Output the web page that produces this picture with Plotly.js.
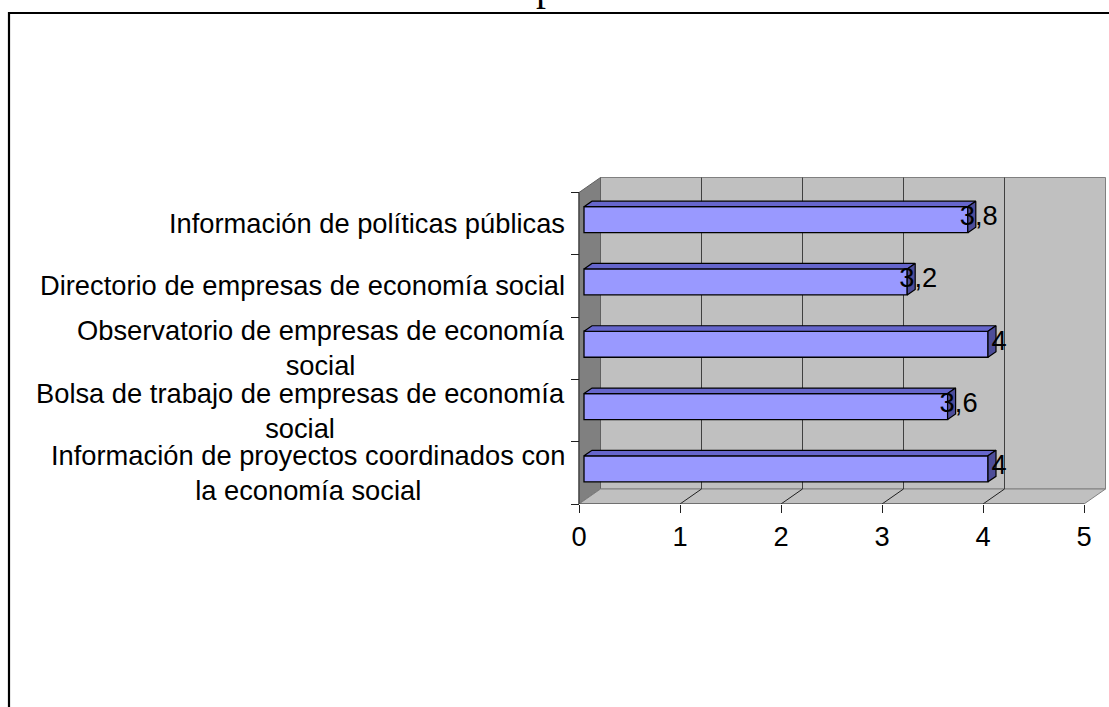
<!DOCTYPE html>
<html>
<head>
<meta charset="utf-8">
<script src="https://cdn.plot.ly/plotly-3.0.1.min.js"></script>
<style>html,body{margin:0;padding:0;background:#fff;}#chart{width:1109px;height:707px;}</style>
</head>
<body>
<div id="chart"></div>
<script>
// ---- data (bottom to top) ----
var categories = [
  "Información de proyectos coordinados con<br>la economía social",
  "Bolsa de trabajo de empresas de economía<br>social",
  "Observatorio de empresas de economía<br>social",
  "Directorio de empresas de economía social",
  "Información de políticas públicas"
];
var values = [4, 3.6, 4, 3.2, 3.8];
var xTicks = [0, 1, 2, 3, 4, 5];
var titleText = "p";

// ---- geometry (pixels -> data units) ----
var W = 1109, H = 707;
var X0 = 579, UX = 101;      // pixel of x=0 on the front plane, px per unit
var YB = 504, UY = 62.3;     // pixel of y=-0.5 on the front plane, px per category
var DX = 21.5 / UX, DY = 15 / UY;          // depth of the box
var BOX = 5 / UX, BOY = 4 / UY;            // bar front offset
var BDX = 8 / UX, BDY = 5.5 / UY;          // bar depth
var BW = 26 / UY;                           // bar thickness
var xr = [-0.3, 5.24], yr = [-0.5, 4.9];
var xdom = [(X0 + xr[0] * UX) / W, (X0 + xr[1] * UX) / W];
var ydom = [(H - YB) / H, (H - (YB - (yr[1] - yr[0]) * UY)) / H];
var nCat = categories.length;
var yLo = -0.5, yHi = nCat - 0.5, xMax = xTicks[xTicks.length - 1];

var font = "Liberation Sans, Arial, sans-serif";
var FS = 27.3;

var idx = categories.map(function (c, i) { return i; });
var traces = [];

// bar top and side faces
values.forEach(function (v, i) {
  var yc = i + BOY, t = yc + BW / 2, b = yc - BW / 2;
  traces.push({
    type: "scatter", mode: "lines", fill: "toself", fillcolor: "#6666CC",
    line: {color: "#000", width: 1.2}, hoverinfo: "skip", showlegend: false,
    x: [BOX, BOX + v, BOX + v + BDX, BOX + BDX, BOX],
    y: [t, t, t + BDY, t + BDY, t]
  });
  traces.push({
    type: "scatter", mode: "lines", fill: "toself", fillcolor: "#4D4D99",
    line: {color: "#000", width: 1.2}, hoverinfo: "skip", showlegend: false,
    x: [BOX + v, BOX + v + BDX, BOX + v + BDX, BOX + v, BOX + v],
    y: [b, b + BDY, t + BDY, t, b]
  });
});

// bar front faces
traces.push({
  type: "bar", orientation: "h",
  x: values, y: idx.map(function (i) { return i + BOY; }),
  base: BOX, width: BW,
  marker: {color: "#9999FF", line: {color: "#000", width: 1.3}},
  hoverinfo: "x", showlegend: false
});

// data labels
traces.push({
  type: "scatter", mode: "text", cliponaxis: false, hoverinfo: "skip", showlegend: false,
  x: values.map(function (v) { return BOX + v + BDX + 3 / UX; }),
  y: idx.map(function (i) { return i + BOY + BDY - 4 / UY; }),
  text: values.map(function (v) { return String(v).replace(".", ","); }),
  textposition: "middle center",
  textfont: {family: font, size: FS, color: "#000"}
});

// walls, floor, grid
var shapes = [];
shapes.push({type: "rect", xref: "x", yref: "y", layer: "below",
  x0: DX, x1: xMax + DX, y0: yLo + DY, y1: yHi + DY,
  fillcolor: "#C0C0C0", line: {color: "#808080", width: 1}});
shapes.push({type: "path", xref: "x", yref: "y", layer: "below",
  path: "M0," + yLo + " L" + DX + "," + (yLo + DY) + " L" + DX + "," + (yHi + DY) + " L0," + yHi + " Z",
  fillcolor: "#808080", line: {color: "#606060", width: 1}});
shapes.push({type: "path", xref: "x", yref: "y", layer: "below",
  path: "M0," + yLo + " L" + xMax + "," + yLo + " L" + (xMax + DX) + "," + (yLo + DY) + " L" + DX + "," + (yLo + DY) + " Z",
  fillcolor: "#C0C0C0", line: {color: "#808080", width: 1}});
xTicks.forEach(function (k) {
  if (k > 0 && k < xMax) {
    shapes.push({type: "line", xref: "x", yref: "y", layer: "below",
      x0: k + DX, x1: k + DX, y0: yLo + DY, y1: yHi + DY, line: {color: "#404040", width: 1}});
    shapes.push({type: "line", xref: "x", yref: "y", layer: "below",
      x0: k, x1: k + DX, y0: yLo, y1: yLo + DY, line: {color: "#202020", width: 1}});
  }
});
// front edges (axes)
shapes.push({type: "line", xref: "x", yref: "y", layer: "below",
  x0: 0, x1: xMax, y0: yLo, y1: yLo, line: {color: "#404040", width: 1.2}});
shapes.push({type: "line", xref: "x", yref: "y", layer: "below",
  x0: 0, x1: 0, y0: yLo, y1: yHi, line: {color: "#404040", width: 1.2}});
// chart border
shapes.push({type: "rect", xref: "paper", yref: "paper", layer: "above",
  x0: 9 / W, x1: 1.2, y0: -0.2, y1: (H - 13) / H,
  fillcolor: "rgba(0,0,0,0)", line: {color: "#000", width: 2.2}});

// category labels
var annotations = categories.map(function (c, i) {
  return {xref: "paper", yref: "y", x: 567 / W, y: i, xanchor: "right", yanchor: "middle",
    align: "center", showarrow: false, text: c,
    font: {family: font, size: FS, color: "#000"}};
});
annotations.push({xref: "paper", yref: "paper", x: 546 / W, y: 1, xanchor: "center", yanchor: "bottom",
  yshift: -11, showarrow: false, text: titleText,
  font: {family: "Liberation Serif, Times New Roman, serif", size: 40, color: "#000"}});

var layout = {
  width: W, height: H,
  margin: {l: 0, r: 0, t: 0, b: 0},
  paper_bgcolor: "#fff", plot_bgcolor: "rgba(0,0,0,0)",
  showlegend: false, bargap: 0,
  xaxis: {domain: xdom, range: xr, anchor: "y", tickvals: xTicks, ticktext: xTicks.map(String),
    ticks: "outside", ticklen: 8, tickcolor: "#202020", tickwidth: 1,
    showgrid: false, zeroline: false, showline: false, fixedrange: true,
    tickfont: {family: font, size: FS, color: "#000"}},
  yaxis: {domain: ydom, range: yr, anchor: "free", position: X0 / W,
    tickvals: idx.map(function (i) { return i - 0.5; }).concat([yHi]),
    ticks: "outside", ticklen: 8, tickcolor: "#202020", tickwidth: 1,
    showticklabels: false, showgrid: false, zeroline: false, showline: false, fixedrange: true},
  shapes: shapes,
  annotations: annotations
};

Plotly.newPlot("chart", traces, layout, {displayModeBar: false, staticPlot: true});
</script>
</body>
</html>
